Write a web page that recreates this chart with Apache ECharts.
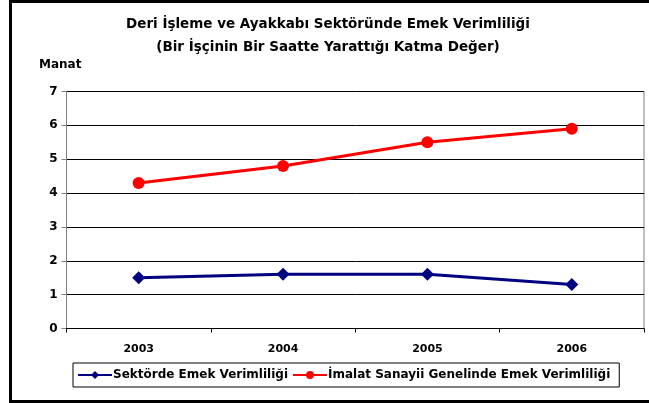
<!DOCTYPE html>
<html><head><meta charset="utf-8">
<script src="https://cdn.jsdelivr.net/npm/echarts@6/dist/echarts.min.js"></script>
<style>html,body{margin:0;padding:0;background:#fff}#c{width:649px;height:403px}</style>
</head><body><div id="c"></div>
<script>
var categories = ['2003', '2004', '2005', '2006'];
var sektorValues = [1.5, 1.6, 1.6, 1.3];
var imalatValues = [4.3, 4.8, 5.5, 5.9];
var yTicks = [0, 1, 2, 3, 4, 5, 6, 7];
var seriesNames = ['Sektörde Emek Verimliliği', 'İmalat Sanayii Genelinde Emek Verimliliği'];

var chart = echarts.init(document.getElementById('c'), null, {renderer: 'canvas'});
var F = 'DejaVu Sans, sans-serif';
chart.setOption({
  animation: false,
  title: [{
    text: 'Deri İşleme ve Ayakkabı Sektöründe Emek Verimliliği\n(Bir İşçinin Bir Saatte Yarattığı Katma Değer)',
    left: 323, top: 8, textAlign: 'center',
    textStyle: {fontFamily: F, fontSize: 13.5, fontWeight: 'bold', color: '#000', lineHeight: 23}
  }, {
    text: 'Manat', left: 34, top: 54,
    textStyle: {fontFamily: F, fontSize: 12, fontWeight: 'bold', color: '#000'}
  }],
  graphic: [{
    type: 'rect', silent: true,
    shape: {x: 10.5, y: 1.5, width: 700, height: 400},
    style: {fill: 'none', stroke: '#000', lineWidth: 3}
  }],
  grid: {left: 66.5, right: 5, top: 91.5, bottom: 74.5, show: true, borderColor: '#808080', borderWidth: 1},
  legend: {
    left: 73, top: 363, data: seriesNames,
    borderColor: '#000', borderWidth: 1, padding: [6, 9, 6, 4],
    itemWidth: 34, itemHeight: 10, itemGap: 4,
    textStyle: {fontFamily: F, fontSize: 12, fontWeight: 'bold', color: '#000', padding: [0, 0, 0, -4]}
  },
  xAxis: {
    type: 'category', data: categories, boundaryGap: true,
    axisLine: {lineStyle: {color: '#000', width: 1}},
    axisTick: {show: true, length: 4, lineStyle: {color: '#000'}},
    axisLabel: {fontFamily: F, fontSize: 11, fontWeight: 'bold', color: '#000', margin: 15}
  },
  yAxis: {
    type: 'value', min: yTicks[0], max: yTicks[yTicks.length - 1], interval: 1,
    axisLine: {show: true, lineStyle: {color: '#808080', width: 1}},
    axisTick: {show: true, length: 5, lineStyle: {color: '#808080'}},
    axisLabel: {fontFamily: F, fontSize: 12, fontWeight: 'bold', color: '#000', margin: 9},
    splitLine: {show: true, lineStyle: {color: '#000', width: 1}}
  },
  series: [{
    name: seriesNames[0], type: 'line', data: sektorValues,
    symbol: 'diamond', symbolSize: 13,
    lineStyle: {color: '#000080', width: 3},
    itemStyle: {color: '#000080'}
  }, {
    name: seriesNames[1], type: 'line', data: imalatValues,
    symbol: 'circle', symbolSize: 12,
    lineStyle: {color: '#FF0000', width: 3},
    itemStyle: {color: '#FF0000'}
  }]
});
</script></body></html>
